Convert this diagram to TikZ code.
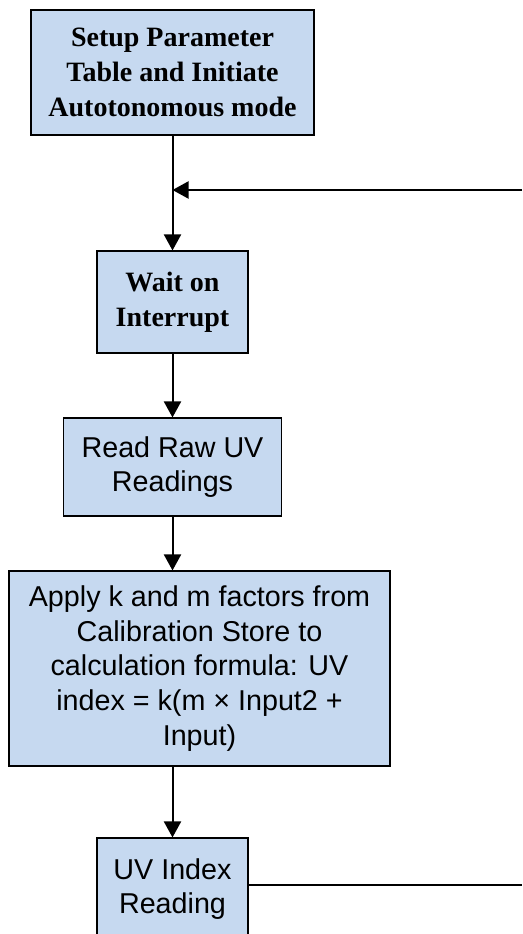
\documentclass[tikz,border=0pt]{standalone}
\usepackage{fontspec}
\setmainfont{Liberation Serif}
\setsansfont{Liberation Sans}
\usetikzlibrary{arrows.meta}
\definecolor{boxblue}{HTML}{C6D9F0}
\tikzset{
  flowbox/.style={draw=black, line width=1.1pt, fill=boxblue, inner sep=0pt, align=center,
    font=\fontsize{28.7}{34.7}\selectfont\sffamily},
  boldbox/.style={flowbox, font=\fontsize{28}{35}\selectfont\rmfamily\bfseries},
  conn/.style={draw=black, line width=2pt},
  arr/.style={conn, -{Triangle[length=16pt,width=17pt]}}
}
\begin{document}
\begin{tikzpicture}[x=1pt,y=-1pt]
\useasboundingbox (0,0) rectangle (522,934);
\begin{scope}
\clip (0,0) rectangle (522,934);
\node[boldbox, minimum width=283, minimum height=125] (b1) at (172.5,72.5)
  {Setup Parameter\\Table and Initiate\\Autotonomous mode};
\node[boldbox, minimum width=151, minimum height=102] (b2) at (172.5,302)
  {Wait on\\Interrupt};
\node[flowbox, minimum width=218, minimum height=98] (b3) at (172.5,467)
  {Read Raw UV\\Readings};
\node[flowbox, minimum width=381, minimum height=195] (b4) at (199.5,668.5)
  {Apply k and m factors from\\Calibration Store to\\calculation formula: UV\\index = k(m × Input2 +\\Input)};
\node[flowbox, minimum width=151, minimum height=102] (b5) at (172.5,889)
  {UV Index\\Reading};
\coordinate (fb) at (522,190);
\coordinate (rt) at (522,885);
\draw[arr] (b1.south) -- (b2.north);
\draw[arr] (fb) -- (fb -| b1.south);
\draw[arr] (b2.south) -- (b3.north);
\draw[arr] (b3.south) -- (b3.south |- b4.north);
\draw[arr] (b4.south -| b5.north) -- (b5.north);
\draw[conn] (b5.east |- rt) -- (rt);
\end{scope}
\end{tikzpicture}
\end{document}
